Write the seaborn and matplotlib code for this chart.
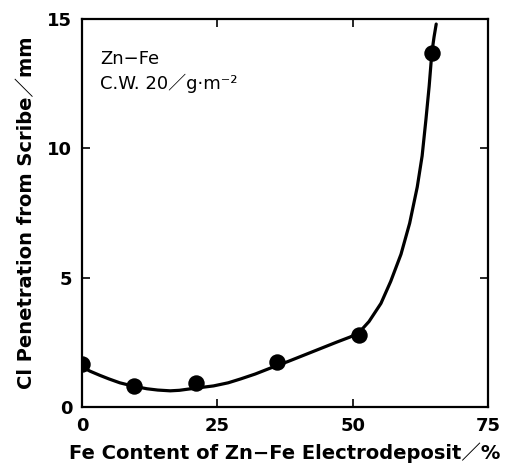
import matplotlib
matplotlib.use("Agg")
import matplotlib.pyplot as plt
import seaborn as sns

# measured points
fe_content = [0, 9.6, 21.1, 36.1, 51.1, 64.7]
penetration = [1.65, 0.82, 0.92, 1.72, 2.78, 13.7]

# hand-drawn fit curve
curve_x = [0, 1.5, 3.3, 5, 7, 9.5, 12, 14, 16.3, 18, 19.4, 22, 24.3, 27, 29.3, 32, 34.8,
           38, 41, 44, 47, 49.5, 51.1, 53, 55.2, 57, 58.9, 60.5, 61.9, 62.8, 63.5, 64.1, 64.6, 65.0, 65.4]
curve_y = [1.55, 1.38, 1.22, 1.08, 0.93, 0.8, 0.7, 0.65, 0.62, 0.64, 0.68, 0.75, 0.81, 0.93, 1.08, 1.27, 1.5,
           1.75, 2.0, 2.25, 2.5, 2.7, 2.86, 3.3, 4.0, 4.85, 5.9, 7.1, 8.5, 9.7, 11.1, 12.4, 13.7, 14.3, 14.8]

xticks = [0, 25, 50, 75]
yticks = [0, 5, 10, 15]

sns.set_theme(style="ticks")
plt.rcParams['font.family'] = ['DejaVu Sans', 'Noto Sans CJK JP']
plt.rcParams['text.color'] = 'black'
plt.rcParams['axes.labelcolor'] = 'black'

fig = plt.figure(figsize=(5.15, 4.72), dpi=100)
ax = fig.add_axes([0.159, 0.138, 0.789, 0.822])

sns.lineplot(x=curve_x, y=curve_y, ax=ax, color="black", linewidth=2.3, sort=False)
sns.scatterplot(x=fe_content, y=penetration, ax=ax, color="black", s=140, edgecolor="black",
                linewidth=0, zorder=5)

ax.set_xlim(0, 75)
ax.set_ylim(0, 15)
ax.set_xticks(xticks)
ax.set_yticks(yticks)
ax.set_xticklabels([str(v) for v in xticks], fontsize=13, fontweight="bold")
ax.set_yticklabels([str(v) for v in yticks], fontsize=13, fontweight="bold")
ax.tick_params(direction="in", length=6, width=1.2, top=True, right=True, colors="black", pad=7)
for sp in ax.spines.values():
    sp.set_linewidth(1.6)
    sp.set_color("black")

ax.set_xlabel("Fe Content of Zn\u2212Fe Electrodeposit\uff0f%", fontsize=14, fontweight="bold", labelpad=6)
ax.set_ylabel("Cl Penetration from Scribe\uff0fmm", fontsize=14, fontweight="bold", labelpad=8)

ax.text(3.3, 13.45, "Zn\u2212Fe", fontsize=13, va="center", ha="left")
ax.text(3.3, 12.5, "C.W. 20\uff0fg\u00b7m\u207b\u00b2", fontsize=13, va="center", ha="left")

fig.savefig("out.png", dpi=100)
